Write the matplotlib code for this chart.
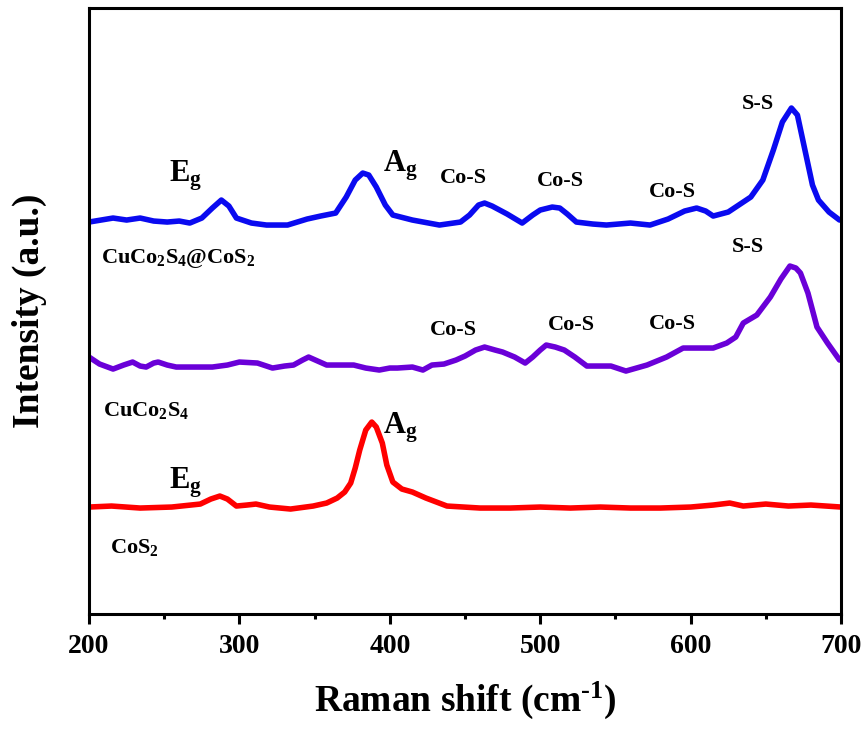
import matplotlib
matplotlib.use("Agg")
import matplotlib.pyplot as plt
from matplotlib.ticker import MultipleLocator

plt.rcParams["font.family"] = ["Liberation Serif", "DejaVu Serif"]
plt.rcParams["font.weight"] = "bold"
plt.rcParams["mathtext.fontset"] = "custom"
plt.rcParams["mathtext.rm"] = "Liberation Serif:bold"
plt.rcParams["mathtext.it"] = "Liberation Serif:bold"
plt.rcParams["mathtext.bf"] = "Liberation Serif:bold"

# Raman shift (cm-1) and stacked intensity (a.u.)
x_blue = [200, 216, 225, 234, 243, 252, 260, 267, 275, 282, 288, 293, 298, 308, 318,
          332, 345, 354, 364, 371, 377, 382, 386, 391, 397, 402, 415, 433, 447, 453,
          459, 463, 468, 478, 488, 495, 500, 508, 513, 518, 524, 535, 544, 560, 573,
          585, 596, 604, 610, 615, 625, 640, 648, 655, 661, 667, 671, 677, 681, 685,
          692, 699]
y_blue = [392, 396, 394, 396, 393, 392, 393, 391, 396, 406, 414, 408, 396, 391, 389,
          389, 395, 398, 401, 417, 434, 441, 439, 427, 409, 399, 394, 389, 392, 399,
          409, 411, 408, 400, 391, 399, 404, 407, 406, 400, 392, 390, 389, 391, 389,
          395, 403, 406, 403, 398, 402, 417, 434, 464, 492, 506, 499, 457, 429, 414,
          402, 394]

x_purple = [200, 207, 216, 223, 229, 234, 238, 243, 246, 252, 258, 270, 282, 292, 300,
            312, 322, 330, 336, 342, 346, 352, 358, 368, 376, 384, 393, 400, 405, 415,
            422, 428, 436, 444, 450, 457, 463, 470, 475, 483, 490, 495, 500, 504, 510,
            516, 523, 531, 547, 557, 571, 584, 595, 605, 615, 624, 630, 635, 644, 653,
            660, 666, 670, 673, 678, 684, 691, 699]
y_purple = [257, 250, 245, 249, 252, 248, 247, 251, 252, 249, 247, 247, 247, 249, 252,
            251, 246, 248, 249, 254, 257, 253, 249, 249, 249, 246, 244, 246, 246, 247,
            244, 249, 250, 254, 258, 264, 267, 264, 262, 257, 251, 257, 264, 269, 267,
            264, 257, 248, 248, 243, 249, 257, 266, 266, 266, 271, 277, 291, 299, 317,
            335, 348, 346, 341, 321, 287, 271, 254]

x_red = [200, 215, 234, 255, 274, 281, 287, 292, 298, 305, 311, 320, 334, 349, 358,
         365, 370, 374, 377, 380, 384, 388, 391, 395, 398, 402, 408, 415, 424, 438,
         460, 480, 500, 520, 540, 560, 580, 600, 615, 626, 635, 650, 665, 680, 700]
y_red = [107, 108, 106, 107, 110, 115, 118, 115, 108, 109, 110, 107, 105, 108, 111,
         116, 122, 131, 146, 164, 184, 192, 187, 171, 149, 132, 125, 122, 116, 108,
         106, 106, 107, 106, 107, 106, 106, 107, 109, 111, 108, 110, 108, 109, 107]

fig = plt.figure(figsize=(8.65, 7.31), dpi=100)
ax = fig.add_axes([0.1029, 0.160, 0.8694, 0.829])

line_kw = dict(lw=4, solid_joinstyle="round", solid_capstyle="round")
ax.plot(x_blue, y_blue, color="#0a0af0", **line_kw)
ax.plot(x_purple, y_purple, color="#6a00d8", **line_kw)
ax.plot(x_red, y_red, color="#ff0000", **line_kw)

# peak labels
big = 22
small = 16
ax.text(264.5, 438, r"E$_{\mathrm{g}}$", fontsize=big, ha="center", va="center")
ax.text(406.8, 448, r"A$_{\mathrm{g}}$", fontsize=big, ha="center", va="center")
for xx, yy in [(448.7, 436), (513.2, 433), (587.6, 422)]:
    ax.text(xx, yy, "Co-S", fontsize=small, ha="center", va="center")
ax.text(644.8, 510, "S-S", fontsize=small, ha="center", va="center")
ax.text(208, 356, r"CuCo$_{2}$S$_{4}$@CoS$_{2}$", fontsize=small, ha="left", va="center")

for xx, yy in [(442, 284), (521, 289), (588, 290)]:
    ax.text(xx, yy, "Co-S", fontsize=small, ha="center", va="center")
ax.text(638, 367, "S-S", fontsize=small, ha="center", va="center")
ax.text(209, 204, r"CuCo$_{2}$S$_{4}$", fontsize=small, ha="left", va="center")

ax.text(406.8, 186, r"A$_{\mathrm{g}}$", fontsize=big, ha="center", va="center")
ax.text(264.5, 131, r"E$_{\mathrm{g}}$", fontsize=big, ha="center", va="center")
ax.text(214, 67, r"CoS$_{2}$", fontsize=small, ha="left", va="center")

ax.set_xlim(200, 700)
ax.set_ylim(0, 606)
ax.xaxis.set_major_locator(MultipleLocator(100))
ax.xaxis.set_minor_locator(MultipleLocator(50))
ax.set_yticks([])
ax.tick_params(axis="x", which="major", length=7.5, width=2.2, labelsize=20, pad=7)
ax.tick_params(axis="x", which="minor", length=3.8, width=2.2)
for s in ax.spines.values():
    s.set_linewidth(2.2)

ax.set_xlabel(r"Raman shift (cm$^{\text{-1}}$)", fontsize=27, fontweight="bold", labelpad=15)
ax.set_ylabel("Intensity (a.u.)", fontsize=27, fontweight="bold", labelpad=30)

fig.savefig("out.png", dpi=100)
